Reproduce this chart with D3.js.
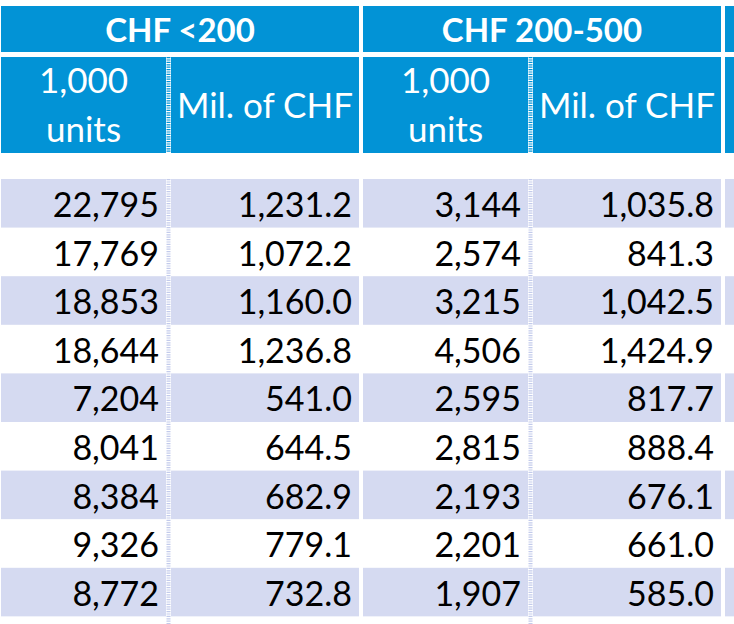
<!DOCTYPE html>
<html>
<head>
<meta charset="utf-8">
<script src="https://cdn.jsdelivr.net/npm/d3@7"></script>
<style>
  body { margin: 0; background: #fff; }
  svg { display: block; }
</style>
</head>
<body>
<div class="main"></div>
<script>
// price bands and column headings
const groups = ["CHF <200", "CHF 200-500", ""]
const subHeads = [["1,000", "units"], ["Mil. of CHF"]]

const lowUnits = [22795, 17769, 18853, 18644, 7204, 8041, 8384, 9326, 8772]
const lowValue = [1231.2, 1072.2, 1160.0, 1236.8, 541.0, 644.5, 682.9, 779.1, 732.8]
const midUnits = [3144, 2574, 3215, 4506, 2595, 2815, 2193, 2201, 1907]
const midValue = [1035.8, 841.3, 1042.5, 1424.9, 817.7, 888.4, 676.1, 661.0, 585.0]

const series = [[lowUnits, lowValue], [midUnits, midValue], [[], []]]

const width = 734, height = 624
const blue = "#0293d6", lilac = "#d5daf1", lilacDash = "#c3cbeb"
const font = "Lato, 'Open Sans', sans-serif"

const svg = d3.select(".main")
    .append("svg")
    .attr("width", width)
    .attr("height", height)
    .style("font-family", font)

// one group = 358px wide, 4px gap between groups
const gx = d3.scaleLinear().domain([0, 1]).range([1, 363])
const groupW = 358, colA = 165, sepW = 5
const colX = [0, colA + sepW]
const colW = [colA, groupW - colA - sepW]

const nRows = 10
const y = d3.scaleBand()
    .domain(d3.range(nRows))
    .range([179, 179 + nRows * 48.6])

const fmtUnits = d3.format(",d")
const fmtValue = d3.format(",.1f")
const fmts = [fmtUnits, fmtValue]

const g = svg.selectAll("g.group")
    .data(groups)
    .join("g")
    .attr("class", "group")
    .attr("transform", (d, i) => `translate(${gx(i)}, 0)`)

// band title
g.append("rect")
    .attr("y", 6).attr("width", groupW).attr("height", 46)
    .attr("fill", blue)
g.append("text")
    .attr("x", groupW / 2).attr("y", 42)
    .attr("text-anchor", "middle")
    .attr("fill", "#fff")
    .attr("font-weight", 700)
    .attr("font-size", 33)
    .text(d => d)

// sub header
g.append("rect")
    .attr("y", 57).attr("width", groupW).attr("height", 96)
    .attr("fill", blue)
g.each(function (d, gi) {
    const sel = d3.select(this)
    if (!d) return
    subHeads.forEach((lines, ci) => {
        const t = sel.append("text")
            .attr("text-anchor", "middle")
            .attr("fill", "#fff")
            .attr("font-size", 35)
        const cx = colX[ci] + colW[ci] / 2
        const base = lines.length === 2 ? [93, 142] : [118]
        lines.forEach((l, li) => {
            t.append("tspan").attr("x", cx).attr("y", base[li]).text(l)
        })
    })
})

// body rows
g.selectAll("rect.row")
    .data(d3.range(nRows))
    .join("rect")
    .attr("class", "row")
    .attr("y", r => y(r))
    .attr("width", groupW)
    .attr("height", y.bandwidth() + 0.5)
    .attr("fill", r => r % 2 === 0 ? lilac : "#fff")

// dashed column separators
g.append("rect")
    .attr("x", colA).attr("y", 57)
    .attr("width", sepW).attr("height", height - 57)
    .attr("fill", "#fff")
g.append("line")
    .attr("x1", colA + sepW / 2).attr("x2", colA + sepW / 2)
    .attr("y1", 57).attr("y2", 153)
    .attr("stroke", blue).attr("stroke-width", sepW - 1)
    .attr("stroke-dasharray", "1.2,1.2")
g.append("line")
    .attr("x1", colA + sepW / 2).attr("x2", colA + sepW / 2)
    .attr("y1", 179).attr("y2", height)
    .attr("stroke", lilacDash).attr("stroke-width", sepW - 1)
    .attr("stroke-dasharray", "1.2,1.2")

// values, right aligned
g.each(function (d, gi) {
    const sel = d3.select(this)
    series[gi].forEach((vals, ci) => {
        sel.selectAll(`text.c${ci}`)
            .data(vals)
            .join("text")
            .attr("class", `c${ci}`)
            .attr("x", colX[ci] + colW[ci] - 7)
            .attr("y", (v, r) => y(r) + 38)
            .attr("text-anchor", "end")
            .attr("fill", "#000")
            .attr("font-size", 34)
            .text(v => fmts[ci](v))
    })
})
</script>
</body>
</html>
